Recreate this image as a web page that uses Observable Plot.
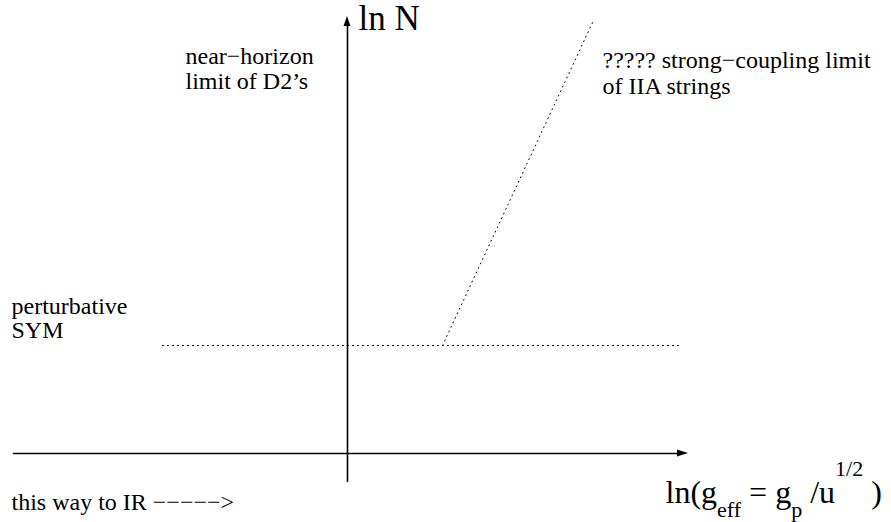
<!DOCTYPE html>
<html>
<head>
<meta charset="utf-8">
<script src="https://cdn.jsdelivr.net/npm/d3@7"></script>
<script src="https://cdn.jsdelivr.net/npm/@observablehq/plot@0.6"></script>
<style>
  html, body { margin: 0; padding: 0; background: #fff; }
  svg { display: block; }
</style>
</head>
<body>
<div id="chart"></div>
<script>
// Schematic phase diagram: x = ln(g_eff), y = ln N (arbitrary units, origin at axis crossing)
const xAxisLine = [{x: -3.34, y: 0}, {x: 3.31, y: 0}];
const yAxisLine = [{x: 0, y: -0.28}, {x: 0, y: 4.27}];
const xAxisTip = {x: 3.41, y: 0};
const yAxisTip = {x: 0, y: 4.37};
const perturbativeLine = [{x: -1.85, y: 1.08}, {x: 3.31, y: 1.08}];
const strongCouplingLine = [{x: 0.95, y: 1.08}, {x: 2.46, y: 4.33}];

const labels = [
  {x: -1.62, y: 3.90, text: "near−horizon"},
  {x: -1.62, y: 3.65, text: "limit of D2’s"},
  {x: 2.55, y: 3.86, text: "????? strong−coupling limit"},
  {x: 2.55, y: 3.60, text: "of IIA strings"},
  {x: -3.36, y: 1.40, text: "perturbative"},
  {x: -3.36, y: 1.16, text: "SYM"},
  {x: -3.36, y: -0.56, text: "this way to IR −−−−−>"}
];
const yTitle = [{x: 0.11, y: 4.24, text: "ln N"}];
const xTitle = [{x: 3.18, y: -0.49, text: "ln(g_eff = g_p /u^1/2 )"}];
// pieces of the x title: [text, baseline shift in px, font size]
const xTitleParts = [
  ["ln(g", 0, 32],
  ["eff", 14, 22],
  [" = g", 0, 32],
  ["p", 14, 22],
  [" /u", 0, 32],
  ["1/2", -27, 22],
  [" )", 0, 32]
];

const font = "Liberation Serif, Times New Roman, serif";

const plot = Plot.plot({
  width: 891,
  height: 522,
  margin: 0,
  x: {domain: [-3.47, 5.44], axis: null},
  y: {domain: [-0.69, 4.53], axis: null},
  style: {fontFamily: font, background: "#fff"},
  marks: [
    Plot.line(perturbativeLine, {x: "x", y: "y", stroke: "black", strokeWidth: 1, strokeDasharray: "1,4"}),
    Plot.line(strongCouplingLine, {x: "x", y: "y", stroke: "black", strokeWidth: 1, strokeDasharray: "1,4"}),
    Plot.line(xAxisLine, {x: "x", y: "y", stroke: "black", strokeWidth: 1.6}),
    Plot.line(yAxisLine, {x: "x", y: "y", stroke: "black", strokeWidth: 1.6}),
    Plot.text(labels, {x: "x", y: "y", text: "text", textAnchor: "start", lineAnchor: "bottom", fontSize: 24, fill: "black"}),
    Plot.text(yTitle, {x: "x", y: "y", text: "text", textAnchor: "start", lineAnchor: "bottom", fontSize: 35, fill: "black"}),
    Plot.text(xTitle, {x: "x", y: "y", text: "text", textAnchor: "start", lineAnchor: "bottom", fontSize: 32, fill: "black"})
  ]
});

// arrowheads drawn with the plot's own scales
const sx = plot.scale("x"), sy = plot.scale("y");
const svg = d3.select(plot);
function head(from, tip, len, half) {
  const x0 = sx.apply(from.x), y0 = sy.apply(from.y);
  const x1 = sx.apply(tip.x), y1 = sy.apply(tip.y);
  const dx = x1 - x0, dy = y1 - y0, L = Math.hypot(dx, dy);
  const ux = dx / L, uy = dy / L;
  const bx = x1 - ux * len, by = y1 - uy * len;
  const pts = [[x1, y1], [bx - uy * half, by + ux * half], [bx + uy * half, by - ux * half]];
  svg.append("path").attr("d", "M" + pts.join("L") + "Z").attr("fill", "black");
}
head(xAxisLine[0], xAxisTip, 11, 3.5);
head(yAxisLine[0], yAxisTip, 10, 3.5);

// sub/superscripts in the x title
const t = svg.selectAll("text").filter(function () { return this.textContent === xTitle[0].text; });
t.text(null);
let prev = 0;
for (const [s, shift, fs] of xTitleParts) {
  t.append("tspan").attr("dy", shift - prev).attr("font-size", fs).text(s);
  prev = shift;
}

document.getElementById("chart").appendChild(plot);
</script>
</body>
</html>
